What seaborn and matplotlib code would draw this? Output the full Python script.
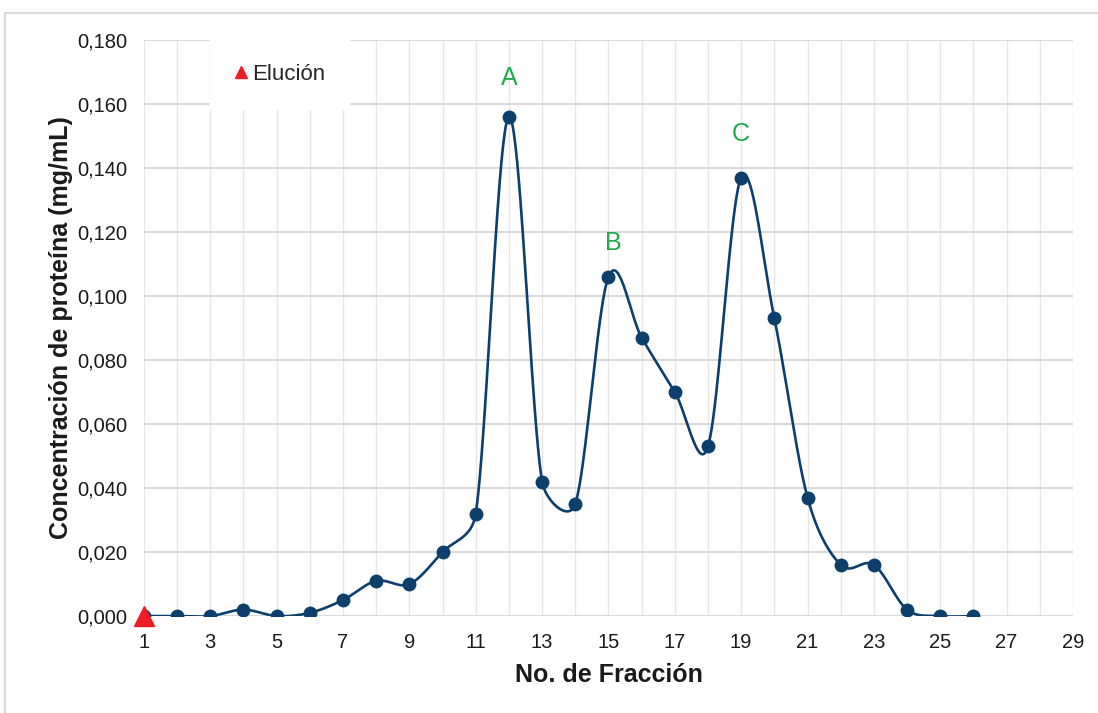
import numpy as np
import pandas as pd
import matplotlib
matplotlib.use("Agg")
import matplotlib.pyplot as plt
import seaborn as sns
from matplotlib.patches import Rectangle
from matplotlib.ticker import FuncFormatter, MultipleLocator

# Fraction numbers and protein concentration (mg/mL)
fraccion = [1, 2, 3, 4, 5, 6, 7, 8, 9, 10, 11, 12, 13, 14, 15, 16, 17, 18, 19, 20, 21, 22, 23, 24, 25, 26]
concentracion = [0.000, 0.000, 0.000, 0.002, 0.000, 0.001, 0.005, 0.011, 0.010, 0.020, 0.032, 0.156,
                 0.042, 0.035, 0.106, 0.087, 0.070, 0.053, 0.137, 0.093, 0.037, 0.016, 0.016, 0.002,
                 0.000, 0.000]

# Peak labels
picos = ["A", "B", "C"]
picos_x = [12, 15.15, 19]
picos_y = [0.168, 0.1166, 0.1506]

# Elution start
elucion_x = [1]
elucion_y = [0.0]

x_ticks = list(range(1, 30, 2))

LINE = "#0c3f6c"
GREEN = "#20a94b"


def smooth_curve(x, y, sx=33.18, sy=3200.0, steps=40, cap=0.5):
    """Smoothed line through the points: cubic Bezier segments with
    Catmull-Rom control arms, each arm limited to a fraction of the
    adjacent segment length (in screen units)."""
    P = np.column_stack([np.asarray(x, float) * sx, np.asarray(y, float) * sy])
    n = len(P)
    left = P.copy()
    right = P.copy()
    for i in range(1, n - 1):
        arm = (P[i + 1] - P[i - 1]) / 6.0
        a = np.linalg.norm(arm)
        if a == 0:
            continue
        lp = np.linalg.norm(P[i] - P[i - 1])
        ln = np.linalg.norm(P[i + 1] - P[i])
        left[i] = P[i] - arm * min(1.0, cap * lp / a)
        right[i] = P[i] + arm * min(1.0, cap * ln / a)
    out = []
    for i in range(n - 1):
        b0, b1, b2, b3 = P[i], right[i], left[i + 1], P[i + 1]
        t = np.linspace(0, 1, steps, endpoint=(i == n - 2))[:, None]
        seg = ((1 - t) ** 3) * b0 + 3 * ((1 - t) ** 2) * t * b1 + 3 * (1 - t) * t ** 2 * b2 + t ** 3 * b3
        out.append(seg)
    pts = np.vstack(out)
    return pts[:, 0] / sx, pts[:, 1] / sy


sns.set_theme(style="white")
plt.rcParams["font.family"] = ["Liberation Sans", "DejaVu Sans"]

fig = plt.figure(figsize=(10.98, 7.13), dpi=100)
ax = fig.add_axes([0.1311, 0.1360, 0.8461, 0.8079])

# light frame around the chart area
fig.patches.append(Rectangle((5 / 1098, -0.05), 1.2, 1 - 13 / 713 + 0.05,
                             transform=fig.transFigure, fill=False,
                             edgecolor="#d9d9d9", linewidth=1.5, zorder=0))

cx, cy = smooth_curve(fraccion, concentracion)
curve = pd.DataFrame({"x": cx, "y": cy})
pts = pd.DataFrame({"x": fraccion, "y": concentracion})

sns.lineplot(data=curve, x="x", y="y", ax=ax, color=LINE, linewidth=1.9,
             sort=False, estimator=None, zorder=3)
sns.scatterplot(data=pts, x="x", y="y", ax=ax, color=LINE, s=100,
                edgecolor=LINE, linewidth=0, zorder=4)

ax.plot(elucion_x, elucion_y, marker="^", color="#ee1c25", markersize=15,
        linestyle="none", clip_on=False, zorder=6, label="Elución")

for lab, lx, ly in zip(picos, picos_x, picos_y):
    ax.text(lx, ly, lab, color=GREEN, fontsize=18, ha="center", va="center", zorder=5)

ax.set_xlim(1, 29)
ax.set_ylim(0, 0.18)
ax.set_xticks(x_ticks)
ax.xaxis.set_minor_locator(MultipleLocator(1))
ax.yaxis.set_major_locator(MultipleLocator(0.02))
ax.yaxis.set_major_formatter(FuncFormatter(lambda v, p: f"{v:.3f}".replace(".", ",")))

ax.grid(axis="y", which="major", color="#d9d9d9", linewidth=1.5)
ax.grid(axis="x", which="both", color="#e6e6e6", linewidth=1.0)
ax.set_axisbelow(True)
for s in ax.spines.values():
    s.set_visible(False)

ax.tick_params(axis="both", which="both", length=0, labelsize=14.5, colors="#1a1a1a")
ax.tick_params(axis="x", pad=12)
ax.tick_params(axis="y", pad=12)

ax.set_xlabel("No. de Fracción", fontsize=18, fontweight="bold", color="#1a1a1a", labelpad=8)
ax.set_ylabel("Concentración de proteína (mg/mL)", fontsize=18, fontweight="bold",
              color="#1a1a1a", labelpad=3)

leg = ax.legend(loc="upper left", bbox_to_anchor=(0.066, 1.009), frameon=True,
                fontsize=16, handlelength=0.6, handletextpad=0.2, borderpad=0.8,
                markerscale=0.6)
leg.get_frame().set_facecolor("white")
leg.get_frame().set_edgecolor("white")
leg.get_frame().set_alpha(1)
leg.get_frame().set_boxstyle("square")

fig.savefig("out.png", dpi=100, facecolor="white")
